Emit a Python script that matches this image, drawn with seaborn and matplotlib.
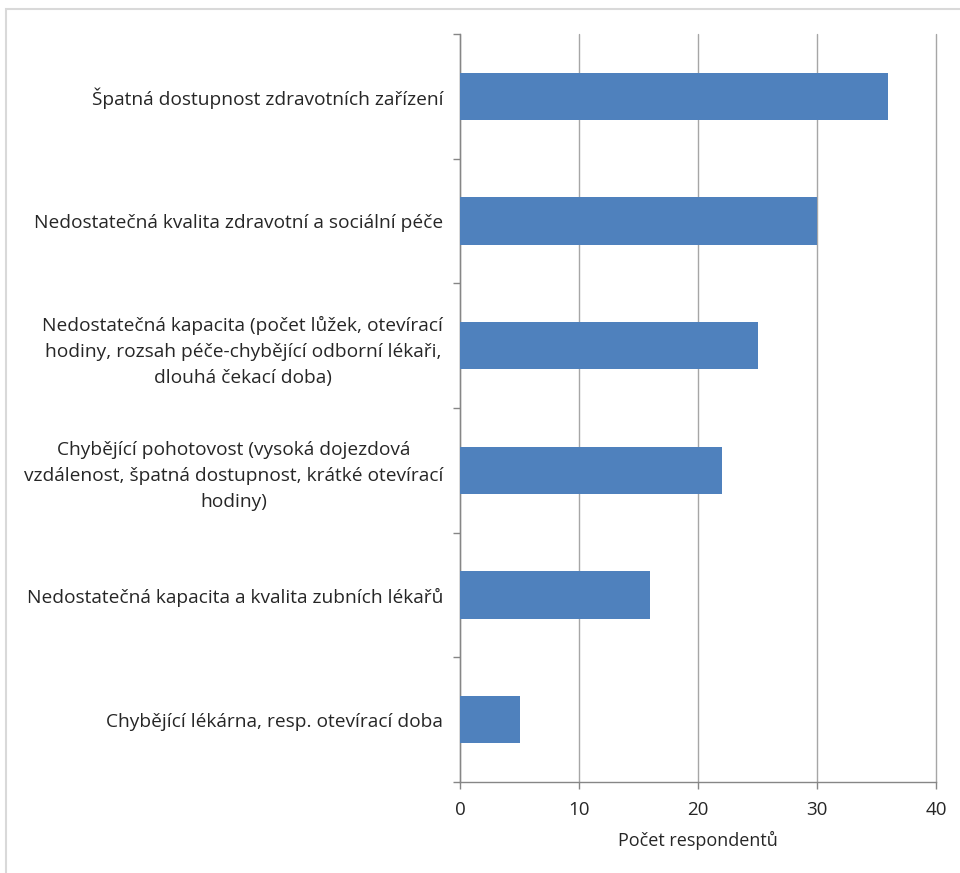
import matplotlib
matplotlib.use('Agg')
import matplotlib.pyplot as plt
import seaborn as sns
import pandas as pd
from matplotlib.patches import Rectangle

# Data
categories = [
    'Špatná dostupnost zdravotních zařízení',
    'Nedostatečná kvalita zdravotní a sociální péče',
    'Nedostatečná kapacita (počet lůžek, otevírací\nhodiny, rozsah péče-chybějící odborní lékaři,\ndlouhá čekací doba)',
    'Chybějící pohotovost (vysoká dojezdová\nvzdálenost, špatná dostupnost, krátké otevírací\nhodiny)',
    'Nedostatečná kapacita a kvalita zubních lékařů',
    'Chybějící lékárna, resp. otevírací doba',
]
counts = [36, 30, 25, 22, 16, 5]
x_ticks = [0, 10, 20, 30, 40]

df = pd.DataFrame({'kategorie': categories, 'pocet': counts})

sns.set_style('white')
plt.rcParams['font.family'] = ['Open Sans', 'DejaVu Sans']

fig = plt.figure(figsize=(9.6, 8.73), dpi=100)
ax = fig.add_axes([460 / 960, 1 - 782 / 873, 476 / 960, 748 / 873])

# outer chart border
fig.patches.append(Rectangle((6 / 960, -0.01), 1.1, 1 - 9 / 873 + 0.01,
                             transform=fig.transFigure, fill=False,
                             edgecolor='#d9d9d9', linewidth=1.5))

sns.barplot(data=df, x='pocet', y='kategorie', orient='h', color='#4f81bd',
            width=0.38, saturation=1, linewidth=0, ax=ax, zorder=3)

ax.set_xlim(0, 40)
ax.set_ylim(len(categories) - 0.5, -0.5)
ax.set_xticks(x_ticks)
ax.set_xticklabels([str(t) for t in x_ticks])
ax.grid(axis='x', color='#a6a6a6', linewidth=1, zorder=0)
ax.grid(axis='y', visible=False)
for gl in ax.get_xgridlines():
    gl.set_clip_on(False)

for side in ['top', 'right']:
    ax.spines[side].set_visible(False)
for side in ['left', 'bottom']:
    ax.spines[side].set_color('#868686')
    ax.spines[side].set_linewidth(1)

# y ticks sit between categories, labels centred on the bars
ax.set_yticks([i - 0.5 for i in range(len(categories) + 1)], minor=False)
ax.set_yticklabels([''] * (len(categories) + 1))
ax.set_yticks(range(len(categories)), minor=True)
ax.set_yticklabels(categories, minor=True, fontsize=13.8, color='#262626',
                   linespacing=1.55, multialignment='center')
ax.tick_params(axis='y', which='major', length=5, color='#868686', width=1,
               direction='out', left=True)
ax.tick_params(axis='y', which='minor', length=0, pad=12)
ax.tick_params(axis='x', length=5, color='#868686', width=1, direction='out',
               bottom=True, labelsize=13.5, labelcolor='#262626', pad=9)

ax.set_xlabel('Počet respondentů', fontsize=13, color='#262626', labelpad=8)
ax.set_ylabel('')

plt.savefig('out.png', dpi=100)
